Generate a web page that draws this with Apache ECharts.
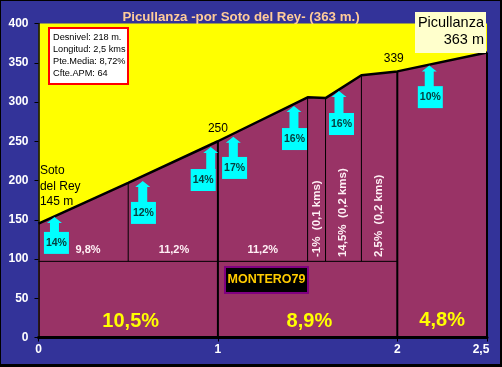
<!DOCTYPE html>
<html><head><meta charset="utf-8">
<style>html,body{margin:0;padding:0;background:#000}#c{position:absolute;left:0;top:0;width:502px;height:367px}</style>
<script src="https://cdn.jsdelivr.net/npm/echarts@6/dist/echarts.min.js"></script>
</head><body><div id="c"></div>
<script>
const titleText = 'Picullanza -por Soto del Rey- (363 m.)';
const yTicks = [0,50,100,150,200,250,300,350,400];
const xTicks = [0,1,2,2.5];
const profileKm = [0,0.5,1,1.5,1.6,1.8,2,2.5];
const profileAlt = [145,197,250,306,305,334,339,363];
const majorKm = [1,2,2.5];
const majorTop = [250,339,363];
const minorKm = [0.5,1.5,1.6,1.8];
const minorTop = [197,306,305,334];
const baseLine = 97, baseLineEnd = 2;
const gradeLabels = ['14%','12%','14%','17%','16%','16%','10%'];
const arrowKm = [0.089,0.581,0.960,1.086,1.424,1.675,2.178];
const arrowTip = [153.6,199.4,242.6,255.7,294.8,313.9,346.6];
const gradeBoxKm = [0.100,0.585,0.918,1.093,1.427,1.689,2.184];
const gradeBoxAlt = [120.5,158.7,200.6,216,252.8,272,306.2];
const smallText = ['9,8%','11,2%','11,2%'];
const smallKm = [0.276,0.755,1.25];
const smallAlt = [111.5,111,111];
const bigText = ['10,5%','8,9%','4,8%'];
const bigKm = [0.514,1.51,2.25];
const bigAlt = [20.5,20.5,21.5];
const rotText = ['-1%  (0,1 kms)','14,5%  (0,2 kms)','2,5%  (0,2 kms)'];
const rotKm = [1.553,1.695,1.898];
const rotAlt = [102.5,102.5,102.5];
const peakText = ['250','339'];
const peakKm = [1,1.98];
const peakAlt = [266,354.6];
const startText = ['Soto','del Rey','145 m'];
const startAlt = [212,192,172.5];
const startKm = 0.008;
const infoLines = ['Desnivel: 218 m.','Longitud: 2,5 kms','Pte.Media: 8,72%','Cfte.APM: 64'];
const endLines = ['Picullanza','363 m'];
const watermark = 'MONTERO79';

const FONT = '"Liberation Sans", Arial, sans-serif';
function textSeries(xs, ys, texts, style, rotation){
  return {type:'custom', coordinateSystem:'cartesian2d', silent:true, z:20, clip:false,
    data: xs.map((x,i)=>[x,ys[i]]),
    renderItem:(p,api)=>{
      const c = api.coord([api.value(0),api.value(1)]);
      return {type:'text', x:c[0], y:c[1], rotation:rotation||0, style:Object.assign({text:texts[p.dataIndex], fontFamily:FONT}, style)};
    }};
}
const chart = echarts.init(document.getElementById('c'),null,{renderer:'canvas'});
chart.setOption({
  animation:false,
  backgroundColor:'#000',
  title:{text:titleText,left:236,top:6,textAlign:'center',textStyle:{color:'#FFCC99',fontFamily:FONT,fontWeight:'bold',fontSize:13.3}},
  grid:{left:38.5,top:23.5,width:448.5,height:314,show:true,backgroundColor:'#FFFF00',borderWidth:0},
  xAxis:{type:'value',min:0,max:2.5,z:30,
    axisLine:{show:true,lineStyle:{color:'#000',width:3}},
    axisTick:{show:true,customValues:xTicks,length:4,lineStyle:{color:'#000',width:1}},
    splitLine:{show:false},
    axisLabel:{customValues:xTicks,margin:6,color:'#fff',fontFamily:FONT,fontWeight:'bold',fontSize:12,
      formatter:v=>v===2.5?'{m|2,5}':String(v),
      rich:{m:{color:'#fff',fontFamily:FONT,fontWeight:'bold',fontSize:12,padding:[0,12,0,0]}}}},
  yAxis:{type:'value',min:0,max:400,interval:50,z:30,
    axisLine:{show:true,onZero:false,lineStyle:{color:'#000',width:1.5}},
    axisTick:{show:true,length:4,lineStyle:{color:'#000',width:1}},
    splitLine:{show:false},
    axisLabel:{margin:10,color:'#fff',fontFamily:FONT,fontWeight:'bold',fontSize:12,customValues:yTicks}},
  graphic:[
    {type:'rect',z:-1,shape:{x:1,y:1,width:499,height:363},style:{fill:'#333399'}},
    {type:'rect',z:50,shape:{x:49,y:28,width:79,height:56},style:{fill:'#fff',stroke:'#FF0000',lineWidth:2}},
    ...infoLines.map((t,i)=>({type:'text',z:51,x:53,y:37.5+i*12.1,style:{text:t,fontFamily:FONT,fontSize:9.2,fill:'#000',verticalAlign:'middle'}})),
    {type:'rect',z:50,shape:{x:415,y:12,width:71,height:41},style:{fill:'#FFFFCC'}},
    {type:'text',z:51,x:484,y:23,style:{text:endLines[0],fontFamily:FONT,fontSize:14.5,fill:'#000',align:'right',verticalAlign:'middle'}},
    {type:'text',z:51,x:484,y:40,style:{text:endLines[1],fontFamily:FONT,fontSize:14.5,fill:'#000',align:'right',verticalAlign:'middle'}},
    {type:'rect',z:50,shape:{x:225,y:267,width:83,height:26},style:{fill:'#000',stroke:'#800080',lineWidth:2}},
    {type:'text',z:51,x:266.5,y:279.5,style:{text:watermark,fontFamily:FONT,fontSize:12.5,fontWeight:'bold',fill:'#FFCC00',align:'center',verticalAlign:'middle'}}
  ],
  series:[
    {type:'line',z:3,silent:true,symbol:'none',data:profileKm.map((x,i)=>[x,profileAlt[i]]),
      lineStyle:{color:'#000',width:2.5},areaStyle:{color:'#993366',opacity:1}},
    {type:'custom',z:4,silent:true,data:minorKm.map((x,i)=>[x,minorTop[i]]),
      renderItem:(p,api)=>{
        const a=api.coord([api.value(0),baseLine]),b=api.coord([api.value(0),api.value(1)]);
        return {type:'line',shape:{x1:a[0],y1:a[1],x2:b[0],y2:b[1]},style:{stroke:'#000',lineWidth:1}};
      }},
    {type:'custom',z:4,silent:true,data:[[baseLineEnd,baseLine]],
      renderItem:(p,api)=>{
        const a=api.coord([0,baseLine]),b=api.coord([api.value(0),baseLine]);
        return {type:'line',shape:{x1:a[0],y1:a[1],x2:b[0],y2:b[1]},style:{stroke:'#000',lineWidth:1}};
      }},
    {type:'custom',z:5,silent:true,data:majorKm.map((x,i)=>[x,majorTop[i]]),
      renderItem:(p,api)=>{
        const a=api.coord([api.value(0),0]),b=api.coord([api.value(0),api.value(1)]);
        return {type:'line',shape:{x1:a[0],y1:a[1],x2:b[0],y2:b[1]},style:{stroke:'#000',lineWidth:2}};
      }},
    {type:'custom',z:10,silent:true,data:arrowKm.map((x,i)=>[x,arrowTip[i]]),
      renderItem:(p,api)=>{
        const i=p.dataIndex;
        const t=api.coord([api.value(0),api.value(1)]);
        const b=api.coord([gradeBoxKm[i],gradeBoxAlt[i]]);
        const w=25,h=22,top=b[1]-h/2;
        return {type:'group',children:[
          {type:'polygon',shape:{points:[[t[0],t[1]],[t[0]+7.5,t[1]+6],[t[0]+4.5,t[1]+6],[t[0]+4.5,top+1],[t[0]-4.5,top+1],[t[0]-4.5,t[1]+6],[t[0]-7.5,t[1]+6]]},style:{fill:'#00FFFF'}},
          {type:'rect',shape:{x:b[0]-w/2,y:top,width:w,height:h},style:{fill:'#00FFFF'}},
          {type:'text',x:b[0],y:b[1],style:{text:gradeLabels[i],fontFamily:FONT,fontSize:10.5,fontWeight:'bold',fill:'#064040',align:'center',verticalAlign:'middle'}}
        ]};
      }},
    textSeries(smallKm,smallAlt,smallText,{fontSize:11,fontWeight:'bold',fill:'#FFF0F5',align:'center',verticalAlign:'middle'}),
    textSeries(bigKm,bigAlt,bigText,{fontSize:20,fontWeight:'bold',fill:'#FFFF00',align:'center',verticalAlign:'middle'}),
    textSeries(rotKm,rotAlt,rotText,{fontSize:11.5,fontWeight:'bold',fill:'#FFF0F5',align:'left',verticalAlign:'middle'},Math.PI/2),
    textSeries(peakKm,peakAlt,peakText,{fontSize:12,fill:'#000',align:'center',verticalAlign:'middle'}),
    textSeries(startText.map(()=>startKm),startAlt,startText,{fontSize:12,fill:'#000',align:'left',verticalAlign:'middle'})
  ]
});
</script></body></html>
